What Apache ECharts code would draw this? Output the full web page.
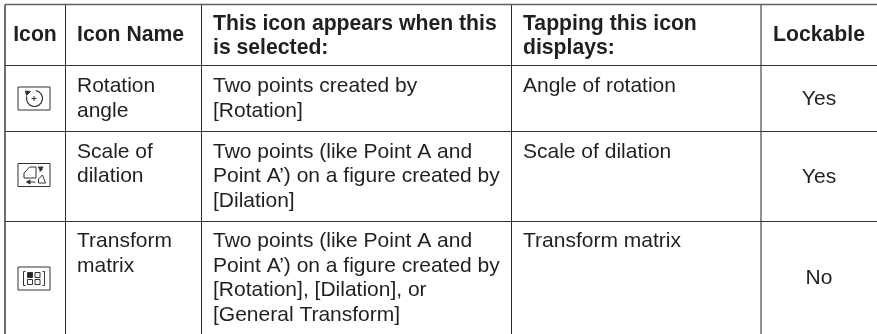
<!DOCTYPE html>
<html>
<head>
<meta charset="utf-8">
<style>
  html, body { margin: 0; padding: 0; background: #fff; }
  #main { width: 877px; height: 334px; }
</style>
<script src="https://cdn.jsdelivr.net/npm/echarts@6/dist/echarts.min.js"></script>
</head>
<body>
<div id="main"></div>
<script>
// table content
var headers = ['Icon', 'Icon Name', 'This icon appears when this\nis selected:', 'Tapping this icon\ndisplays:', 'Lockable'];
var iconNames = ['Rotation\nangle', 'Scale of\ndilation', 'Transform\nmatrix'];
var selections = [
  'Two points created by\n[Rotation]',
  'Two points (like Point A and\nPoint A\u2019) on a figure created by\n[Dilation]',
  'Two points (like Point A and\nPoint A\u2019) on a figure created by\n[Rotation], [Dilation], or\n[General Transform]'
];
var displays = ['Angle of rotation', 'Scale of dilation', 'Transform matrix'];
var lockable = ['Yes', 'Yes', 'No'];
var icons = ['rotate', 'scale', 'matrix'];

// layout of the ruled table, in page pixels
var colLines = [5, 65.5, 201.5, 511.5, 761];
var rowLines = [4.5, 65.5, 131.5, 221.5];
var tableRight = 877;
var tableBottom = 334;
var textX = [35, 77, 213, 523, 819];
var headerY = [35.5, 35.5, 36.5, 36.5, 35.5];
var rowTextY = [74, 139.5, 229];
var iconY = [98.5, 175, 278.5];
var lockY = [99.5, 177, 278.5];

var INK = '#231f20';
var FONT = '"Liberation Sans", Arial, sans-serif';

var cells = [];
headers.forEach(function (h, c) {
  cells.push({ value: [textX[c], headerY[c]], text: h, bold: true, center: c === 0 || c === 4, middle: true, lh: 24 });
});
iconNames.forEach(function (t, r) {
  cells.push({ value: [textX[1], rowTextY[r]], text: t });
  cells.push({ value: [textX[2], rowTextY[r]], text: selections[r] });
  cells.push({ value: [textX[3], rowTextY[r]], text: displays[r] });
  cells.push({ value: [textX[4], lockY[r]], text: lockable[r], center: true, middle: true });
});

var rules = [];
colLines.forEach(function (x, i) {
  rules.push({ value: [x, rowLines[0], x, tableBottom], color: i === 0 ? '#5f5f5f' : i === 4 ? '#555' : '#2b2b2b', width: i === 0 ? 1.8 : i === 4 ? 1.3 : 1 });
});
rowLines.forEach(function (y, i) {
  rules.push({ value: [colLines[0], y, tableRight, y], color: i === 0 ? '#5f5f5f' : '#333', width: i === 0 ? 1.6 : 1 });
});

function line(x1, y1, x2, y2, w) {
  return { type: 'line', shape: { x1: x1, y1: y1, x2: x2, y2: y2 }, style: { stroke: '#333', lineWidth: w || 1, fill: null } };
}
function poly(points, closed, fill) {
  return {
    type: closed ? 'polygon' : 'polyline',
    shape: { points: points },
    style: { stroke: '#333', lineWidth: 1, fill: fill || null }
  };
}
function box(x, y, w, h, fill) {
  return { type: 'rect', shape: { x: x, y: y, width: w, height: h }, style: { stroke: '#333', lineWidth: 1, fill: fill || null } };
}

// icon glyphs, drawn around the centre of their frame
function glyph(name) {
  if (name === 'rotate') {
    return [
      { type: 'arc', shape: { cx: 1, cy: 0, r: 8, startAngle: -1.4, endAngle: 3.4, clockwise: true }, style: { stroke: '#333', lineWidth: 1.2, fill: null } },
      poly([[-8, -7.5], [-3, -7], [-7, -3]], true, '#333'),
      line(-2, 0, 3, 0), line(0.5, -2.5, 0.5, 2.5)
    ];
  }
  if (name === 'scale') {
    return [
      poly([[-9.5, 3], [-9.5, -2], [-4, -8], [2.5, -8], [2.5, 3]], true),
      poly([[5, 8], [5, 4], [9, 0], [12, 8]], true),
      line(-5, 7, 2, 7), poly([[-7, 7], [-3.5, 5], [-3.5, 9]], true, '#333'),
      line(6, -3, 9, -6), poly([[5, -8], [9.5, -8], [7, -4]], true, '#333')
    ];
  }
  return [
    poly([[-8, -7], [-10, -7], [-10, 7], [-8, 7]], false),
    poly([[9, -7], [11, -7], [11, 7], [9, 7]], false),
    box(-6, -6, 5, 5, '#222'), box(1.5, -6, 5, 5),
    box(-6, 1, 5, 5), box(1.5, 1, 5, 5)
  ];
}

var chart = echarts.init(document.getElementById('main'), null, { renderer: 'canvas' });
chart.setOption({
  animation: false,
  backgroundColor: '#fff',
  grid: { left: 0, right: 0, top: 0, bottom: 0 },
  xAxis: { type: 'value', min: 0, max: 877, show: false },
  yAxis: { type: 'value', min: 0, max: 334, inverse: true, show: false },
  series: [
    {
      type: 'custom',
      coordinateSystem: 'cartesian2d',
      silent: true,
      encode: { x: [0, 2], y: [1, 3] },
      data: rules,
      renderItem: function (params, api) {
        var a = api.coord([api.value(0), api.value(1)]);
        var b = api.coord([api.value(2), api.value(3)]);
        var rule = rules[params.dataIndex];
        return {
          type: 'line',
          shape: { x1: a[0], y1: a[1], x2: b[0], y2: b[1] },
          style: { stroke: rule.color, lineWidth: rule.width }
        };
      }
    },
    {
      type: 'custom',
      coordinateSystem: 'cartesian2d',
      silent: true,
      encode: { x: 0, y: 1 },
      data: cells,
      renderItem: function (params, api) {
        var cell = cells[params.dataIndex];
        var p = api.coord([api.value(0), api.value(1)]);
        return {
          type: 'text',
          x: p[0],
          y: p[1],
          style: {
            text: cell.text,
            fill: INK,
            font: (cell.bold ? 'bold 21.2px ' : '21px ') + FONT,
            lineHeight: cell.lh || 24.6,
            align: cell.center ? 'center' : 'left',
            verticalAlign: cell.middle ? 'middle' : 'top'
          }
        };
      }
    },
    {
      type: 'custom',
      coordinateSystem: 'cartesian2d',
      silent: true,
      encode: { x: 0, y: 1 },
      data: icons.map(function (name, r) { return [textX[0] - 1.5, iconY[r]]; }),
      renderItem: function (params, api) {
        var p = api.coord([api.value(0), api.value(1)]);
        var children = [box(-15.5, -11.5, 32, 23)].concat(glyph(icons[params.dataIndex]));
        return { type: 'group', x: p[0], y: p[1], children: children };
      }
    }
  ]
});
</script>
</body>
</html>
